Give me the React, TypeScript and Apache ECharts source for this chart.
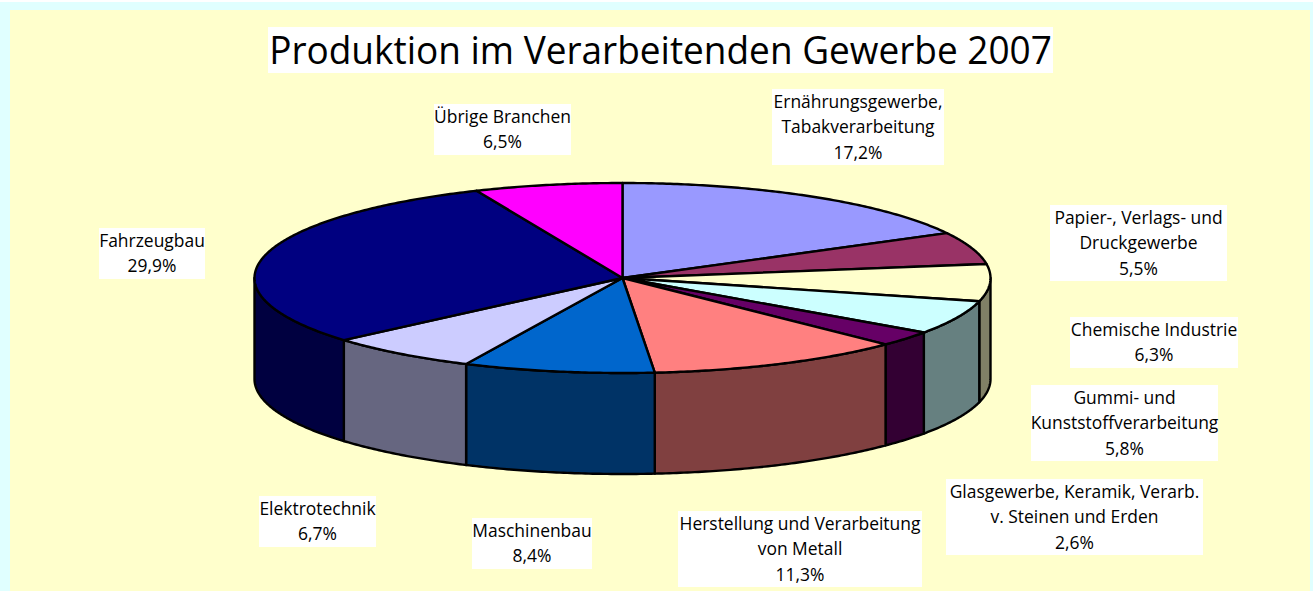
import React, { useEffect, useRef } from "react";
import * as echarts from "echarts";

const categories = ["Ernährungsgewerbe, Tabakverarbeitung", "Papier-, Verlags- und Druckgewerbe", "Chemische Industrie", "Gummi- und Kunststoffverarbeitung", "Glasgewerbe, Keramik, Verarb. v. Steinen und Erden", "Herstellung und Verarbeitung von Metall", "Maschinenbau", "Elektrotechnik", "Fahrzeugbau", "Übrige Branchen"];
const values = [17.2, 5.5, 6.3, 5.8, 2.6, 11.3, 8.4, 6.7, 29.9, 6.5];
const colors = ["#9999FF", "#993366", "#FFFFCC", "#CCFFFF", "#660066", "#FF8080", "#0066CC", "#CCCCFF", "#000080", "#FF00FF"];
const labelLines = [
  ["Ernährungsgewerbe,", "Tabakverarbeitung"],
  ["Papier-, Verlags- und", "Druckgewerbe"],
  ["Chemische Industrie"],
  ["Gummi- und", "Kunststoffverarbeitung"],
  ["Glasgewerbe, Keramik, Verarb.", "v. Steinen und Erden"],
  ["Herstellung und Verarbeitung", "von Metall"],
  ["Maschinenbau"],
  ["Elektrotechnik"],
  ["Fahrzeugbau"],
  ["Übrige Branchen"],
];
// label box: left, top, right, bottom
const labelBoxes = [
  [772, 89, 944, 165],
  [1050, 205, 1227, 281],
  [1070, 317, 1238, 368],
  [1031, 385, 1218, 461],
  [946, 479, 1203, 555],
  [678, 511, 922, 587],
  [472, 518, 592, 569],
  [259, 496, 376, 547],
  [99, 228, 205, 279],
  [434, 104, 571, 155],
];
const titleText = "Produktion im Verarbeitenden Gewerbe 2007";

const CX = 622.5, CY = 278, RX = 368, RY = 95, DEPTH = 101;
const FONT = "Open Sans";
const LABEL_SIZE = 18.5;
const TITLE_SIZE = 38;

function measure(text: string, size: number) {
  const c = document.createElement("canvas").getContext("2d")!;
  c.font = `${size}px "${FONT}"`;
  return c.measureText(text).width;
}

function darken(hex: string) {
  const n = parseInt(hex.slice(1), 16);
  const h = (v: number) => Math.round(v / 2).toString(16).padStart(2, "0");
  return "#" + h((n >> 16) & 255) + h((n >> 8) & 255) + h(n & 255);
}
const total = values.reduce((a, b) => a + b, 0);
function angles(i: number) {
  let s = 0;
  for (let k = 0; k < i; k++) s += values[k];
  return [(s / total) * 2 * Math.PI, ((s + values[i]) / total) * 2 * Math.PI];
}
const pt = (a: number, dy = 0) => [CX + RX * Math.sin(a), CY - RY * Math.cos(a) + dy];
function arc(a0: number, a1: number, dy = 0) {
  const n = Math.max(2, Math.ceil((a1 - a0) / 0.01));
  const out: number[][] = [];
  for (let k = 0; k <= n; k++) out.push(pt(a0 + ((a1 - a0) * k) / n, dy));
  return out;
}

export default function App() {
  const ref = useRef<HTMLDivElement>(null);
  useEffect(() => {
    const chart = echarts.init(ref.current!, undefined, { renderer: "svg" });
    const line = { stroke: "#000", lineWidth: 2.4, lineJoin: "round" as const };
    const labelScale = 241 / measure("Herstellung und Verarbeitung", LABEL_SIZE);
    const titleScale = 783 / measure(titleText, TITLE_SIZE);
    const labelEls = labelBoxes.map((b, i) => {
      const lines = [...labelLines[i], values[i].toFixed(1).replace(".", ",") + "%"];
      return {
        type: "group",
        children: [
          { type: "rect", shape: { x: b[0], y: b[1], width: b[2] - b[0], height: b[3] - b[1] }, style: { fill: "#fff" } },
          ...lines.map((t, k) => ({
            type: "text",
            x: (b[0] + b[2]) / 2,
            y: b[1] + 11.5 + k * 25.5,
            scaleX: labelScale,
            style: { text: t, fill: "#000", font: `${LABEL_SIZE}px "${FONT}"`, textAlign: "center", textVerticalAlign: "middle" },
          })),
        ],
      };
    });
    chart.setOption({
      animation: false,
      backgroundColor: "#E0FFFF",
      graphic: [
        { type: "rect", z: -1, shape: { x: 0, y: 0, width: 1313, height: 2 }, style: { fill: "#fff" } },
        { type: "rect", z: -1, shape: { x: 10, y: 10, width: 1300, height: 581 }, style: { fill: "#FFFFCC" } },
        { type: "rect", z: 5, shape: { x: 268, y: 27, width: 785, height: 46 }, style: { fill: "#fff" } },
        { type: "text", z: 6, x: 660.5, y: 49, scaleX: titleScale, style: { text: titleText, fill: "#000", font: `${TITLE_SIZE}px "${FONT}"`, textAlign: "center", textVerticalAlign: "middle" } },
        ...labelEls.map((e) => ({ ...e, z: 5 })),
      ],
      series: [
        {
          type: "custom",
          name: "Seiten",
          coordinateSystem: "none",
          silent: true,
          z: 1,
          data: values.map((v, i) => ({ name: categories[i], value: v })),
          renderItem: (p: any) => {
            const [a0, a1] = angles(p.dataIndex);
            const s = Math.max(a0, Math.PI / 2), e = Math.min(a1, 1.5 * Math.PI);
            if (e <= s) return { type: "group", children: [] };
            const points = [...arc(s, e), ...arc(s, e, DEPTH).reverse()];
            return { type: "polygon", shape: { points }, style: { fill: darken(colors[p.dataIndex]), ...line } };
          },
        },
        {
          type: "custom",
          name: "Oberseite",
          coordinateSystem: "none",
          silent: true,
          z: 2,
          data: values.map((v, i) => ({ name: categories[i], value: v })),
          renderItem: (p: any) => {
            const [a0, a1] = angles(p.dataIndex);
            const points = [[CX, CY], ...arc(a0, a1)];
            return { type: "polygon", shape: { points }, style: { fill: colors[p.dataIndex], ...line } };
          },
        },
      ],
    });
    return () => chart.dispose();
  }, []);
  return <div ref={ref} style={{ position: "fixed", left: 0, top: 0, width: 1313, height: 591 }} />;
}
